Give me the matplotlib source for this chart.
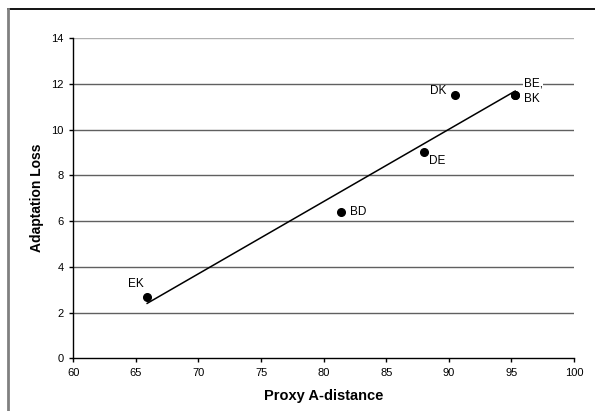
import matplotlib.pyplot as plt
from matplotlib.lines import Line2D
import numpy as np

plt.rcParams['font.family'] = ['Liberation Sans', 'DejaVu Sans']

pairs = ['EK', 'BD', 'DE', 'DK', 'BE', 'BK']
proxy_a = [65.9, 81.4, 88.0, 90.5, 95.3, 95.3]
adapt_loss = [2.7, 6.4, 9.0, 11.5, 11.5, 11.5]

x_ticks = [60, 65, 70, 75, 80, 85, 90, 95, 100]
y_ticks = [0, 2, 4, 6, 8, 10, 12, 14]

fig = plt.figure(figsize=(5.95, 4.11), dpi=100)
ax = fig.add_axes([73.3 / 595, 1 - 358.3 / 411, (574 - 73.3) / 595, (358.3 - 38) / 411])

# outer frame (cut off at right/bottom like the original)
fig.add_artist(Line2D([8 / 595, 1], [1 - 9 / 411, 1 - 9 / 411], color='black', lw=1.3,
                      transform=fig.transFigure))
fig.add_artist(Line2D([8 / 595, 8 / 595], [0, 1 - 9 / 411], color='#808080', lw=2,
                      transform=fig.transFigure))

for y in y_ticks[1:]:
	ax.axhline(y, color='#b0b0b0' if y == 14 else '#606060', lw=1, zorder=1)

ax.plot(proxy_a, adapt_loss, 'o', color='black', ms=5.5, zorder=3)

# least squares trend line
k, b = np.polyfit(proxy_a, adapt_loss, 1)
xs = np.array([min(proxy_a), max(proxy_a)])
ax.plot(xs, k * xs + b, color='black', lw=1.1, zorder=2)

offsets = {
	'EK': (-14, 5, 'left', 'bottom'),
	'BD': (6, 0, 'left', 'center'),
	'DE': (4, -2, 'left', 'top'),
	'DK': (-6, 3, 'right', 'center'),
}
for name, xv, yv in zip(pairs, proxy_a, adapt_loss):
	if name in offsets:
		dx, dy, ha, va = offsets[name]
		ax.annotate(name, (xv, yv), xytext=(dx, dy), textcoords='offset points',
		            ha=ha, va=va, fontsize=8.5)
ax.annotate('BE,\nBK', (proxy_a[4], adapt_loss[4]), xytext=(6, 3), textcoords='offset points',
            ha='left', va='center', fontsize=8.5, linespacing=1.4,
            bbox=dict(facecolor='white', edgecolor='none', pad=0.5), zorder=4)

ax.set_xlim(60, 100)
ax.set_ylim(0, 14)
ax.set_xticks(x_ticks)
ax.set_yticks(y_ticks)
ax.tick_params(labelsize=8, length=3, width=1, color='black', pad=4)
for s in ['top', 'right']:
	ax.spines[s].set_visible(False)
for s in ['left', 'bottom']:
	ax.spines[s].set_linewidth(1)
ax.set_xlabel('Proxy A-distance', fontsize=10.5, fontweight='bold', labelpad=8)
ax.set_ylabel('Adaptation Loss', fontsize=10, fontweight='bold', labelpad=5)

fig.savefig('out.png', dpi=100)
